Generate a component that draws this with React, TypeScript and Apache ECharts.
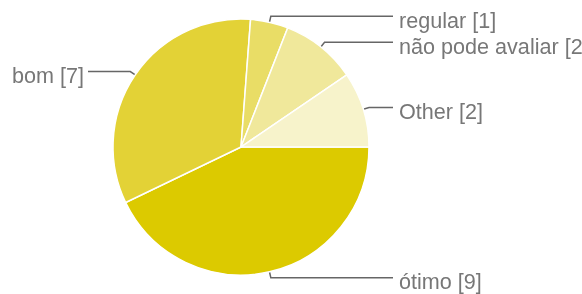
import React, { useEffect, useRef } from "react";
import * as echarts from "echarts";

const categories = ["ótimo", "bom", "regular", "não pode avaliar", "Other"];
const values = [9, 7, 1, 2, 2];
const colors = ["#DCCA00", "#E3D236", "#E9DD66", "#F0E89B", "#F7F3CB"];

const CX = 241;
const CY = 147;
const R = 128;

export default function App() {
  const ref = useRef<HTMLDivElement>(null);
  useEffect(() => {
    if (!ref.current) return;
    const chart = echarts.init(ref.current, null, { renderer: "svg" });
    const total = values.reduce((s, v) => s + v, 0);
    const mids: number[] = [];
    let cum = 0;
    values.forEach((v) => {
      mids.push(((cum + v / 2) / total) * Math.PI * 2);
      cum += v;
    });
    chart.setOption({
      animation: false,
      series: [
        {
          type: "pie",
          center: [CX, CY],
          radius: R,
          startAngle: 0,
          clockwise: true,
          avoidLabelOverlap: false,
          emphasis: { disabled: true },
          itemStyle: { borderColor: "#ffffff", borderWidth: 1.5 },
          label: {
            show: true,
            formatter: "{b} [{c}]",
            fontSize: 21.6,
            color: "#777777",
            fontFamily: "Arial, 'Liberation Sans', sans-serif",
          },
          labelLine: {
            show: true,
            length: 6,
            length2: 20,
            lineStyle: { color: "#666666", width: 1.5 },
          },
          labelLayout: (params: any) => {
            const a = mids[params.dataIndex];
            const c = Math.cos(a);
            const s = Math.sin(a);
            const p0 = [CX + R * c, CY + R * s];
            const p1 = [p0[0] + 6 * c, p0[1] + 6 * s];
            const right = c >= 0;
            const endX = right ? 393 : 88;
            return {
              x: right ? 399 : 84,
              y: p1[1] + 4,
              align: right ? "left" : "right",
              verticalAlign: "middle",
              labelLinePoints: [p0, p1, [endX, p1[1]]],
            };
          },
          data: categories.map((name, i) => ({
            name,
            value: values[i],
            itemStyle: { color: colors[i] },
          })),
        },
      ],
    });
    return () => chart.dispose();
  }, []);
  return (
    <div
      ref={ref}
      style={{ position: "fixed", left: 0, top: 0, width: 582, height: 294 }}
    />
  );
}
